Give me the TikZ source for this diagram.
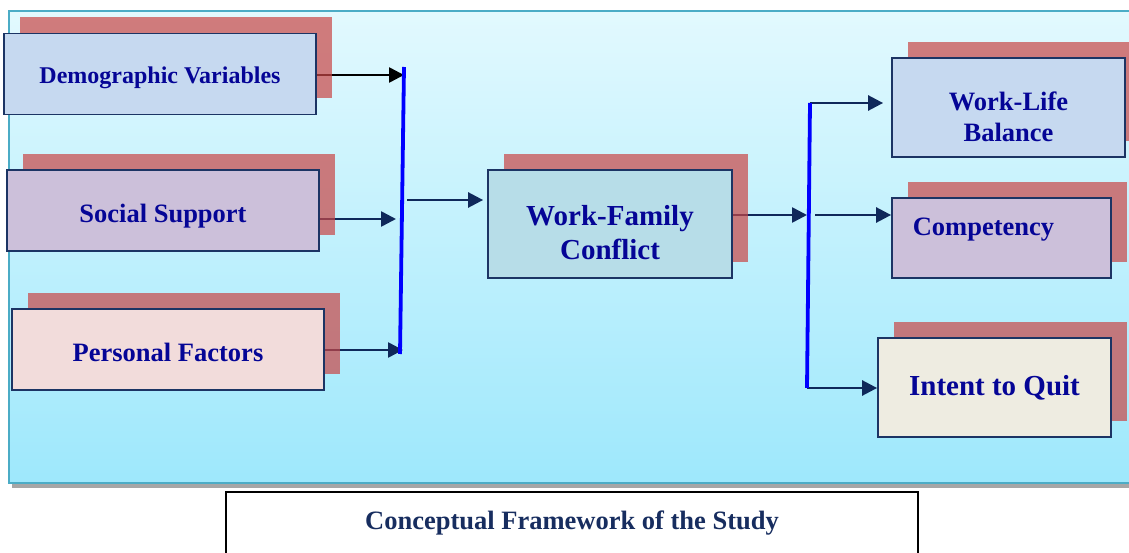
\documentclass[tikz,border=0pt]{standalone}
\usepackage{fontspec}
\setmainfont{Liberation Serif}
\usetikzlibrary{positioning,arrows.meta,backgrounds,shadows}
\definecolor{framecol}{RGB}{75,172,198}
\definecolor{paneltop}{RGB}{226,249,254}
\definecolor{panelbot}{RGB}{158,232,252}
\definecolor{boxline}{RGB}{28,52,100}
\definecolor{vartext}{RGB}{5,5,150}
\definecolor{captext}{RGB}{23,45,95}
\definecolor{shadowred}{RGB}{201,70,70}
\definecolor{linkcol}{RGB}{15,40,90}
\definecolor{bluefill}{RGB}{198,217,240}
\definecolor{lilacfill}{RGB}{204,192,218}
\definecolor{rosefill}{RGB}{242,220,219}
\definecolor{tealfill}{RGB}{183,221,232}
\definecolor{creamfill}{RGB}{238,236,225}
\tikzset{%
varbox/.style={draw=boxline,line width=1.8pt,rectangle,inner sep=2pt,
  minimum width=312pt,minimum height=81pt,text=vartext,align=center,
  font=\bfseries\fontsize{26.5}{31}\selectfont,
  drop shadow={shadow xshift=16pt,shadow yshift=16pt,fill=shadowred,opacity=0.7}},
boxtext/.style={text=vartext,align=center,inner sep=0pt,font=\bfseries\fontsize{26.5}{31}\selectfont},
link/.style={draw=linkcol,line width=2.6pt,-{Triangle[length=15pt,width=15pt]}},
bar/.style={draw=blue,line width=3.8pt},
panel/.style={draw=framecol,line width=1.5pt,top color=paneltop,bottom color=panelbot},
capbox/.style={draw=black,line width=1.5pt,fill=white,rectangle,minimum width=692pt,minimum height=70pt}
}
\begin{document}
\begin{tikzpicture}[x=1pt,y=-1pt]
  \useasboundingbox (0,0) rectangle (1129,553);

  \node[varbox,fill=bluefill,
    label={[boxtext,font=\bfseries\fontsize{24}{28}\selectfont,yshift=-4pt]center:Demographic Variables}] (dem) at (160,74) {};
  \node[varbox,fill=lilacfill,
    label={[boxtext,yshift=-6pt]center:Social Support}] (soc) at (163,210.5) {};
  \node[varbox,fill=rosefill,
    label={[boxtext,yshift=-3pt]center:Personal Factors}] (pers) at (168,349.5) {};

  \node[varbox,fill=tealfill,minimum width=244pt,minimum height=108pt,
    label={[boxtext,font=\bfseries\fontsize{29}{34}\selectfont,yshift=-9pt]center:Work-Family\\Conflict}] (wfc) at (610,224) {};

  \node[varbox,fill=bluefill,minimum width=233pt,minimum height=99pt,
    label={[boxtext,yshift=-9pt]center:Work-Life\\Balance}] (wlb) at (1008.5,107.5) {};
  \node[varbox,fill=lilacfill,minimum width=219pt,minimum height=80pt,
    label={[boxtext,xshift=-18pt,yshift=8pt]center:Competency}] (comp) at (1001.5,238) {};
  \node[varbox,fill=creamfill,minimum width=233pt,minimum height=99pt,
    font=\bfseries\fontsize{29}{34}\selectfont] (quit) at (994.5,387.5) {Intent to Quit};

  \coordinate (ltop) at (404,67);
  \coordinate (lbot) at (400,354);
  \coordinate (rtop) at (810,103);
  \coordinate (rbot) at (807,388);
  \coordinate (l1) at (404,75);
  \coordinate (l2) at (396,219);
  \coordinate (l3) at (403,350);
  \coordinate (l4) at (407,200);
  \coordinate (r1) at (807,215);
  \coordinate (r2) at (815,215);

  \begin{scope}[on background layer]
    \fill[gray!70] (12,483) rectangle (1135,488);
    \path[panel] (9,11) rectangle (1135,483);
    \draw[link,draw=black] (dem.east |- l1) -- (l1);
    \draw[link] (soc.east |- l2) -- (l2);
    \draw[link] (pers.east |- l3) -- (l3);
    \draw[link,shorten >=4pt] (l4) -- (wfc.west |- l4);
    \draw[link] (wfc.east |- r1) -- (r1);
    \draw[link,shorten >=8pt] (rtop) -- (wlb.west |- rtop);
    \draw[link] (r2) -- (comp.west |- r2);
    \draw[link] (rbot) -- (quit.west |- rbot);
  \end{scope}

  \draw[bar] (ltop) -- (lbot);
  \draw[bar] (rtop) -- (rbot);

  \node[capbox,label={[text=captext,font=\bfseries\fontsize{26.5}{30}\selectfont,yshift=4pt]center:Conceptual Framework of the Study}] (cap) at (572,527) {};
\end{tikzpicture}
\end{document}
